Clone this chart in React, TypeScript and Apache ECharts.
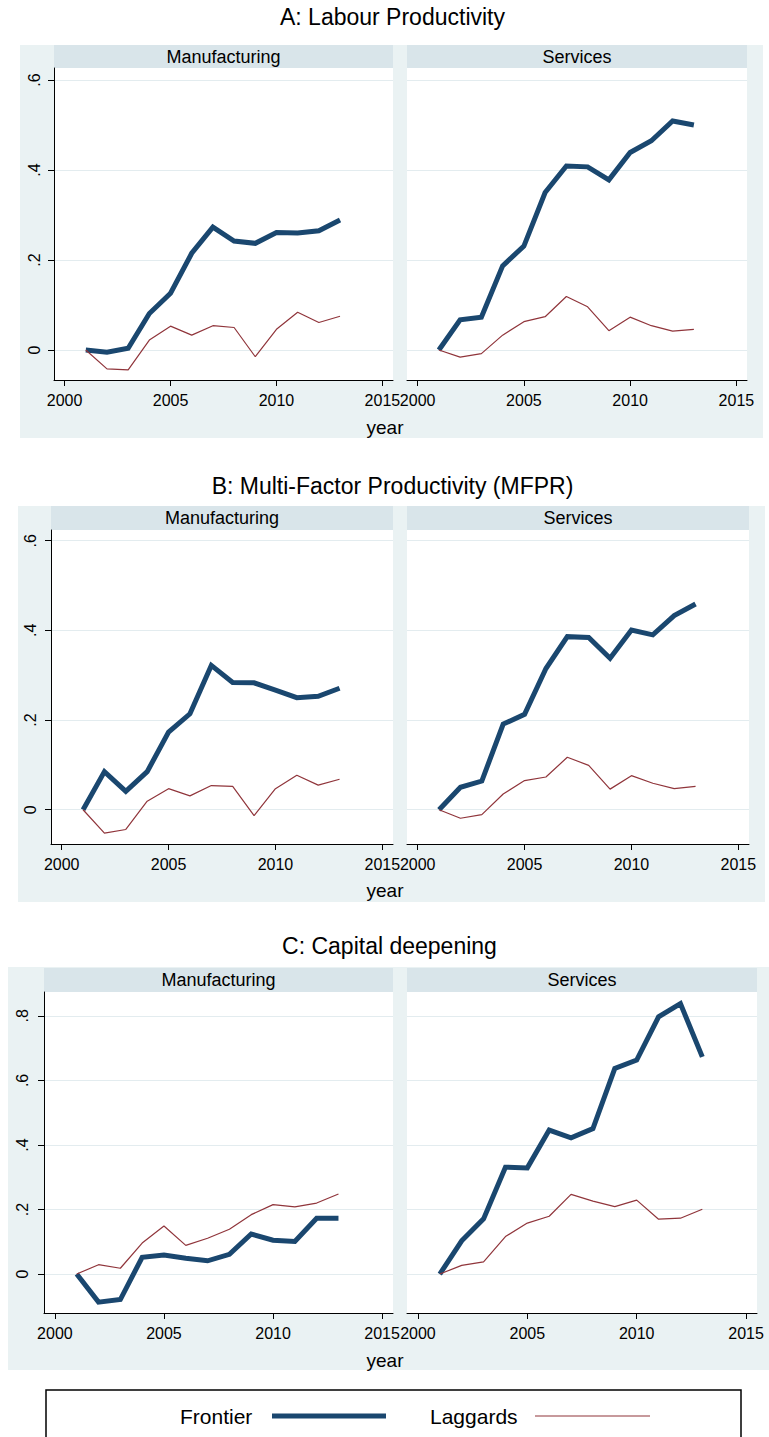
import React, { useEffect, useRef } from "react";
import * as echarts from "echarts";

// ---------- data ----------
const years = [2001, 2002, 2003, 2004, 2005, 2006, 2007, 2008, 2009, 2010, 2011, 2012, 2013];

const aManufFrontier = [0, -0.005, 0.004, 0.081, 0.126, 0.215, 0.273, 0.242, 0.237, 0.261, 0.26, 0.265, 0.289];
const aManufLaggards = [0, -0.042, -0.044, 0.022, 0.053, 0.033, 0.054, 0.05, -0.015, 0.046, 0.084, 0.061, 0.075];
const aServFrontier = [0, 0.067, 0.073, 0.187, 0.231, 0.35, 0.409, 0.407, 0.378, 0.439, 0.465, 0.509, 0.5];
const aServLaggards = [0, -0.016, -0.008, 0.033, 0.063, 0.074, 0.119, 0.096, 0.043, 0.073, 0.054, 0.042, 0.046];

const bManufFrontier = [0, 0.085, 0.041, 0.085, 0.173, 0.214, 0.322, 0.284, 0.283, 0.267, 0.25, 0.253, 0.271];
const bManufLaggards = [0, -0.052, -0.044, 0.019, 0.047, 0.031, 0.054, 0.052, -0.013, 0.047, 0.077, 0.055, 0.068];
const bServFrontier = [0, 0.05, 0.064, 0.191, 0.213, 0.315, 0.386, 0.384, 0.338, 0.401, 0.39, 0.433, 0.459];
const bServLaggards = [0, -0.019, -0.011, 0.035, 0.065, 0.073, 0.117, 0.099, 0.046, 0.076, 0.059, 0.047, 0.052];

const cManufFrontier = [0, -0.087, -0.079, 0.052, 0.059, 0.049, 0.041, 0.061, 0.124, 0.105, 0.101, 0.173, 0.173];
const cManufLaggards = [0, 0.029, 0.018, 0.096, 0.149, 0.089, 0.111, 0.139, 0.184, 0.215, 0.208, 0.22, 0.248];
const cServFrontier = [0, 0.103, 0.171, 0.331, 0.329, 0.446, 0.422, 0.451, 0.637, 0.663, 0.797, 0.838, 0.673];
const cServLaggards = [0, 0.027, 0.038, 0.116, 0.158, 0.179, 0.247, 0.226, 0.209, 0.229, 0.17, 0.173, 0.201];

const xTickValues = [2000, 2005, 2010, 2015];
const xTickLabels = ["2000", "2005", "2010", "2015"];
const yTickValuesAB = [0, 0.2, 0.4, 0.6];
const yTickValuesC = [0, 0.2, 0.4, 0.6, 0.8];
const yTickValues = [0, 0.2, 0.4, 0.6, 0.8];
const yTickLabels = ["0", ".2", ".4", ".6", ".8"];

const panelTitles = ["A: Labour Productivity", "B: Multi-Factor Productivity (MFPR)", "C: Capital deepening"];
const stripLabels = ["Manufacturing", "Services"];
const seriesNames = ["Frontier", "Laggards"];
const xTitle = "year";

// ---------- styles / layout ----------
const NAVY = "#1a476f";
const MAROON = "#90353b";
const OUTER_BG = "#eaf2f3";
const STRIP_BG = "#d9e5ea";
const GRID_LINE = "#e3ecef";
const FONT = "Liberation Sans, Arial, sans-serif";

type Panel = {
  left: number; top: number; width: number; height: number;
  ymin: number; ymax: number; yticks: number[]; showY: boolean;
  frontier: number[]; laggards: number[]; labelMargin: number;
};

const panels: Panel[] = [
  { left: 54, top: 68, width: 339, height: 312, ymin: -0.0667, ymax: 0.6267, yticks: yTickValuesAB, showY: true, frontier: aManufFrontier, laggards: aManufLaggards, labelMargin: 12 },
  { left: 407, top: 68, width: 340, height: 312, ymin: -0.0667, ymax: 0.6267, yticks: yTickValuesAB, showY: false, frontier: aServFrontier, laggards: aServLaggards, labelMargin: 12 },
  { left: 51, top: 530, width: 342, height: 314, ymin: -0.0764, ymax: 0.6239, yticks: yTickValuesAB, showY: true, frontier: bManufFrontier, laggards: bManufLaggards, labelMargin: 13 },
  { left: 407, top: 530, width: 342, height: 314, ymin: -0.0764, ymax: 0.6239, yticks: yTickValuesAB, showY: false, frontier: bServFrontier, laggards: bServLaggards, labelMargin: 13 },
  { left: 44, top: 992, width: 349, height: 321, ymin: -0.1207, ymax: 0.874, yticks: yTickValuesC, showY: true, frontier: cManufFrontier, laggards: cManufLaggards, labelMargin: 14 },
  { left: 407, top: 992, width: 350, height: 321, ymin: -0.1207, ymax: 0.874, yticks: yTickValuesC, showY: false, frontier: cServFrontier, laggards: cServLaggards, labelMargin: 14 },
];

const outerBoxes = [
  { x: 20, y: 45, w: 743, h: 393, titleY: 17, yearY: 427 },
  { x: 18, y: 506, w: 747, h: 396, titleY: 486, yearY: 890 },
  { x: 8, y: 967, w: 761, h: 403, titleY: 946, yearY: 1360 },
];

function yLabel(v: number): string {
  const i = yTickValues.findIndex((t) => Math.abs(t - v) < 1e-9);
  return i >= 0 ? yTickLabels[i] : "";
}
function xLabel(v: number): string {
  const i = xTickValues.findIndex((t) => Math.abs(t - v) < 1e-9);
  return i >= 0 ? xTickLabels[i] : "";
}

export default function App() {
  const ref = useRef<HTMLDivElement>(null);

  useEffect(() => {
    if (!ref.current) return;
    const chart = echarts.init(ref.current, null, { renderer: "svg" });

    const grid = panels.map((p) => ({
      left: p.left, top: p.top, width: p.width, height: p.height,
      containLabel: false, show: false,
    }));

    const xAxis = panels.map((p, i) => ({
      type: "value", gridIndex: i, min: 1999.5, max: 2015.5,
      axisLine: { show: true, onZero: false, lineStyle: { color: "#000", width: 1 } },
      axisTick: { show: true, inside: false, length: 6, customValues: xTickValues, lineStyle: { color: "#000", width: 1 } },
      axisLabel: {
        show: true, customValues: xTickValues, margin: 12, formatter: (v: number) => xLabel(v),
        color: "#000", fontSize: 16, fontFamily: FONT, showMinLabel: true, showMaxLabel: true,
      },
      splitLine: { show: false },
    }));

    const yAxis = panels.map((p, i) => ({
      type: "value", gridIndex: i, min: p.ymin, max: p.ymax,
      axisLine: { show: p.showY, onZero: false, lineStyle: { color: "#000", width: 1 } },
      axisTick: { show: p.showY, inside: false, length: 6, customValues: p.yticks, lineStyle: { color: "#000", width: 1 } },
      axisLabel: {
        show: p.showY, customValues: p.yticks, rotate: 90, margin: p.labelMargin,
        formatter: (v: number) => yLabel(v), color: "#000", fontSize: 16, fontFamily: FONT,
      },
      splitLine: { show: true, lineStyle: { color: GRID_LINE, width: 1.2 } },
    }));

    const series: any[] = [];
    panels.forEach((p, i) => {
      series.push({
        name: seriesNames[0], type: "line", xAxisIndex: i, yAxisIndex: i,
        data: years.map((y, k) => [y, p.frontier[k]]),
        symbol: "none", showSymbol: false,
        lineStyle: { color: NAVY, width: 5, join: "miter" }, itemStyle: { color: NAVY },
        z: 3,
      });
      series.push({
        name: seriesNames[1], type: "line", xAxisIndex: i, yAxisIndex: i,
        data: years.map((y, k) => [y, p.laggards[k]]),
        symbol: "none", showSymbol: false,
        lineStyle: { color: MAROON, width: 1.2 }, itemStyle: { color: MAROON },
        z: 4,
      });
    });

    const graphic: any[] = [];
    outerBoxes.forEach((b, k) => {
      graphic.push({ type: "rect", z: -10, shape: { x: b.x, y: b.y, width: b.w, height: b.h }, style: { fill: OUTER_BG } });
      graphic.push({
        type: "text", z: 5, style: {
          text: panelTitles[k], x: b.x + b.w / 2 + 1, y: b.titleY, textAlign: "center", textVerticalAlign: "middle",
          fontSize: 23, fontFamily: FONT, fill: "#000",
        },
      });
      graphic.push({
        type: "text", z: 5, style: {
          text: xTitle, x: 385, y: b.yearY, textAlign: "center", textVerticalAlign: "middle",
          fontSize: 19, fontFamily: FONT, fill: "#000",
        },
      });
    });
    panels.forEach((p, i) => {
      graphic.push({ type: "rect", z: -5, shape: { x: p.left, y: p.top, width: p.width, height: p.height }, style: { fill: "#fff" } });
      const stripTop = outerBoxes[Math.floor(i / 2)].y + (Math.floor(i / 2) === 2 ? 1 : 0);
      graphic.push({ type: "rect", z: -5, shape: { x: p.left, y: stripTop, width: p.width, height: p.top - stripTop }, style: { fill: STRIP_BG } });
      graphic.push({
        type: "text", z: 5, style: {
          text: stripLabels[i % 2], x: p.left + p.width / 2, y: (stripTop + p.top) / 2, textAlign: "center", textVerticalAlign: "middle",
          fontSize: 18, fontFamily: FONT, fill: "#000",
        },
      });
    });

    // legend
    graphic.push({ type: "rect", z: 5, shape: { x: 46, y: 1390, width: 695, height: 70 }, style: { fill: "#fff", stroke: "#000", lineWidth: 1.5 } });
    graphic.push({ type: "text", z: 6, style: { text: seriesNames[0], x: 180, y: 1416, textAlign: "left", textVerticalAlign: "middle", fontSize: 21, fontFamily: FONT, fill: "#000" } });
    graphic.push({ type: "line", z: 6, shape: { x1: 272, y1: 1416, x2: 386, y2: 1416 }, style: { stroke: NAVY, lineWidth: 5 } });
    graphic.push({ type: "text", z: 6, style: { text: seriesNames[1], x: 430, y: 1416, textAlign: "left", textVerticalAlign: "middle", fontSize: 21, fontFamily: FONT, fill: "#000" } });
    graphic.push({ type: "line", z: 6, shape: { x1: 535, y1: 1416, x2: 650, y2: 1416 }, style: { stroke: MAROON, lineWidth: 1.2 } });

    chart.setOption({
      animation: false,
      backgroundColor: "#fff",
      grid, xAxis, yAxis, series, graphic,
    });

    return () => chart.dispose();
  }, []);

  return <div ref={ref} style={{ position: "absolute", left: 0, top: 0, width: 769, height: 1437 }} />;
}
